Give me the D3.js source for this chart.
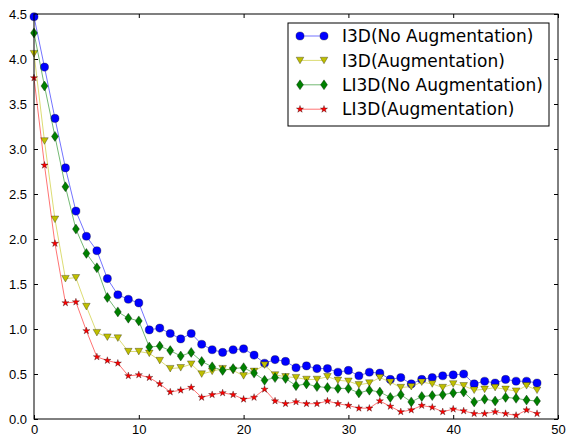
<!DOCTYPE html>
<html>
<head>
<meta charset="utf-8">
<script src="https://cdn.jsdelivr.net/npm/d3@7"></script>
<style>
  body { margin: 0; background: #fff; }
  svg { display: block; font-family: "DejaVu Sans", sans-serif; }
  .tick text { font-size: 13px; fill: #000; }
</style>
</head>
<body>
<svg id="chart"></svg>
<script>
// loss per epoch
const seriesNames = ['I3D(No Augmentation)', 'I3D(Augmentation)', 'LI3D(No Augmentation)', 'LI3D(Augmentation)'];

const i3dNoAug = [4.47, 3.91, 3.34, 2.79, 2.31, 2.03, 1.87, 1.56, 1.38, 1.33, 1.29, 0.99, 1.01, 0.95, 0.89, 0.95,
  0.83, 0.77, 0.74, 0.77, 0.78, 0.71, 0.62, 0.66, 0.64, 0.57, 0.59, 0.56, 0.56, 0.52, 0.54, 0.48, 0.52, 0.51,
  0.44, 0.46, 0.39, 0.44, 0.46, 0.48, 0.49, 0.50, 0.39, 0.42, 0.40, 0.44, 0.42, 0.42, 0.40];
const i3dAug = [4.06, 3.09, 2.22, 1.56, 1.57, 1.25, 0.96, 0.91, 0.90, 0.75, 0.75, 0.73, 0.65, 0.56, 0.57, 0.61,
  0.50, 0.53, 0.56, 0.54, 0.48, 0.53, 0.60, 0.49, 0.47, 0.46, 0.44, 0.44, 0.47, 0.43, 0.42, 0.38, 0.40, 0.46,
  0.41, 0.35, 0.36, 0.41, 0.39, 0.35, 0.39, 0.37, 0.32, 0.33, 0.35, 0.33, 0.31, 0.37, 0.32];
const li3dNoAug = [4.29, 3.70, 3.14, 2.58, 2.11, 1.84, 1.68, 1.35, 1.19, 1.12, 1.09, 0.80, 0.81, 0.76, 0.70, 0.74,
  0.64, 0.58, 0.54, 0.56, 0.57, 0.51, 0.43, 0.46, 0.45, 0.37, 0.39, 0.36, 0.35, 0.34, 0.34, 0.29, 0.32, 0.30,
  0.24, 0.27, 0.19, 0.25, 0.26, 0.27, 0.29, 0.30, 0.19, 0.22, 0.20, 0.24, 0.23, 0.21, 0.20];
const li3dAug = [3.79, 2.82, 1.95, 1.29, 1.30, 0.98, 0.69, 0.65, 0.62, 0.48, 0.49, 0.46, 0.39, 0.30, 0.32, 0.35,
  0.24, 0.27, 0.29, 0.27, 0.22, 0.24, 0.33, 0.20, 0.17, 0.19, 0.17, 0.17, 0.20, 0.17, 0.15, 0.12, 0.12, 0.20,
  0.14, 0.08, 0.10, 0.15, 0.13, 0.08, 0.11, 0.09, 0.06, 0.06, 0.08, 0.06, 0.04, 0.10, 0.06];

const xTicks = [0, 10, 20, 30, 40, 50];
const yTicks = [0.0, 0.5, 1.0, 1.5, 2.0, 2.5, 3.0, 3.5, 4.0, 4.5];

const width = 567, height = 441;
const margin = {top: 14, right: 9, bottom: 22, left: 34};
const w = width - margin.left - margin.right;
const h = height - margin.top - margin.bottom;

// marker shapes, roughly matplotlib 'o', 'v', 'd', '*'
const markerPath = {
  circle: d3.symbol(d3.symbolCircle, 52)(),
  triDown: 'M-3.8,-3.2L3.8,-3.2L0,3.4Z',
  thinDiamond: 'M0,-5L3.5,0L0,5L-3.5,0Z',
  star: d3.symbol(d3.symbolStar, 16)()
};

const series = [
  {name: seriesNames[0], values: i3dNoAug, color: '#0000ff', marker: 'circle'},
  {name: seriesNames[1], values: i3dAug, color: '#bfbf00', marker: 'triDown'},
  {name: seriesNames[2], values: li3dNoAug, color: '#008000', marker: 'thinDiamond'},
  {name: seriesNames[3], values: li3dAug, color: '#ff0000', marker: 'star'}
];

const svg = d3.select('#chart')
    .attr('width', width)
    .attr('height', height);

const chart = svg.append('g')
    .attr('transform', `translate(${margin.left},${margin.top})`);

const xScale = d3.scaleLinear().domain([0, 50]).range([0, w]);
const yScale = d3.scaleLinear().domain([0, 4.5]).range([h, 0]);

// axes: inward ticks on all four sides, like matplotlib classic
const xAxis = d3.axisBottom(xScale).tickValues(xTicks).tickFormat(d3.format('d')).tickSize(-4).tickPadding(6);
const yAxis = d3.axisLeft(yScale).tickValues(yTicks).tickFormat(d3.format('.1f')).tickSize(-4).tickPadding(7);

chart.append('g')
    .attr('transform', `translate(0,${h})`)
    .call(xAxis)
    .call(g => g.select('.domain').remove())
    .call(g => g.selectAll('.tick line').attr('stroke', '#000'));

chart.append('g')
    .call(yAxis)
    .call(g => g.select('.domain').remove())
    .call(g => g.selectAll('.tick line').attr('stroke', '#000'));

chart.append('g')
    .call(d3.axisTop(xScale).tickValues(xTicks).tickSize(-4).tickFormat(''))
    .call(g => g.select('.domain').remove())
    .call(g => g.selectAll('.tick line').attr('stroke', '#000'));

chart.append('g')
    .attr('transform', `translate(${w},0)`)
    .call(d3.axisRight(yScale).tickValues(yTicks).tickSize(-4).tickFormat(''))
    .call(g => g.select('.domain').remove())
    .call(g => g.selectAll('.tick line').attr('stroke', '#000'));

const line = d3.line()
    .x((d, i) => xScale(i))
    .y(d => yScale(d));

series.forEach(s => {
  chart.append('path')
      .datum(s.values)
      .attr('fill', 'none')
      .attr('stroke', s.color)
      .attr('stroke-opacity', 0.55)
      .attr('stroke-width', 1)
      .attr('d', line);

  chart.selectAll(null)
      .data(s.values)
    .join('path')
      .attr('d', markerPath[s.marker])
      .attr('transform', (d, i) => `translate(${xScale(i)},${yScale(d)})`)
      .attr('fill', s.color)
      .attr('stroke', '#000')
      .attr('stroke-opacity', 0.6)
      .attr('stroke-width', 0.5);
});

// frame
chart.append('rect')
    .attr('width', w)
    .attr('height', h)
    .attr('fill', 'none')
    .attr('stroke', '#000')
    .attr('stroke-width', 1);

// legend
const legend = svg.append('g')
    .attr('transform', 'translate(288,23)');

legend.append('rect')
    .attr('width', 261)
    .attr('height', 103)
    .attr('fill', '#fff')
    .attr('stroke', '#000')
    .attr('stroke-width', 1);

const rows = legend.selectAll('.row')
    .data(series)
  .join('g')
    .attr('class', 'row')
    .attr('transform', (d, i) => `translate(0,${13 + i * 24.4})`);

rows.append('line')
    .attr('x1', 12).attr('x2', 36)
    .attr('stroke', d => d.color)
    .attr('stroke-opacity', 0.55);

rows.selectAll('.mk')
    .data(d => [12, 36].map(x => ({x, d})))
  .join('path')
    .attr('class', 'mk')
    .attr('d', m => markerPath[m.d.marker])
    .attr('transform', m => `translate(${m.x},0)`)
    .attr('fill', m => m.d.color)
    .attr('stroke', '#000')
    .attr('stroke-opacity', 0.6)
    .attr('stroke-width', 0.5);

rows.append('text')
    .attr('x', 54)
    .attr('dy', '0.36em')
    .style('font-size', '17px')
    .text(d => d.name);
</script>
</body>
</html>
